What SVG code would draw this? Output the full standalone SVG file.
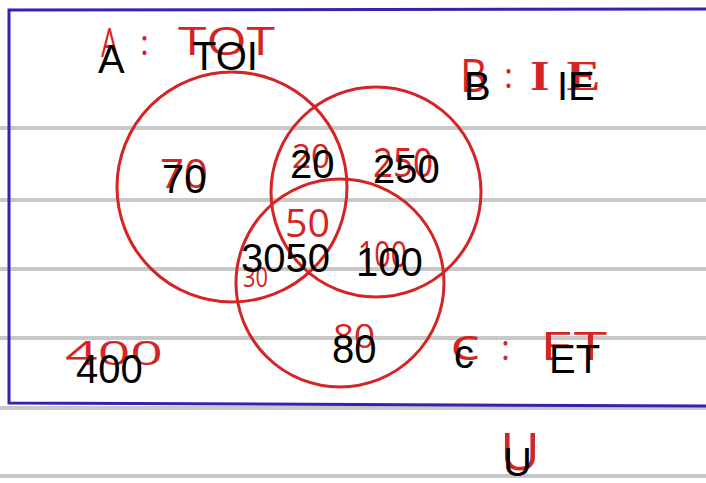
<svg xmlns="http://www.w3.org/2000/svg" width="706" height="483" viewBox="0 0 706 483">
<style>
.rule{stroke:#c8c8c8;stroke-width:4;fill:none}
.frame{stroke:#3d1fb0;stroke-width:3;fill:none}
.set{stroke:#d42424;stroke-width:3;fill:none}
.hand{font-family:"Open Sans",sans-serif;fill:#d42424;font-weight:400}
.lbl{font-family:"Liberation Sans",Arial,sans-serif;fill:#000;font-size:40px}
</style>
<rect width="706" height="483" fill="#fff"/>
<g id="rules">
<line class="rule" x1="0" y1="128" x2="706" y2="128"/>
<line class="rule" x1="0" y1="200" x2="706" y2="200"/>
<line class="rule" x1="0" y1="269" x2="706" y2="269"/>
<line class="rule" x1="0" y1="338" x2="706" y2="338"/>
<line class="rule" x1="0" y1="408" x2="706" y2="408"/>
<line class="rule" x1="0" y1="476" x2="706" y2="476"/>
</g>
<g id="universe">
<polyline class="frame" points="706,9 9,10 9,403 706,406"/>
</g>
<g id="setA"><circle class="set" cx="232" cy="187" r="115"/></g>
<g id="setB"><circle class="set" cx="376" cy="192" r="105"/></g>
<g id="setC"><circle class="set" cx="340" cy="283" r="104"/></g>
<g id="handwriting">
<text class="hand" x="101" y="57" font-size="40" textLength="17" lengthAdjust="spacingAndGlyphs">A</text>
<text class="hand" x="140" y="55" font-size="34">:</text>
<text class="hand" x="178" y="55" font-size="39" textLength="97" lengthAdjust="spacingAndGlyphs">TOT</text>
<text class="hand" x="460" y="92" font-size="46" textLength="27" lengthAdjust="spacingAndGlyphs">B</text>
<text class="hand" x="504" y="88" font-size="34">:</text>
<text class="hand" x="530" y="90" font-size="42" textLength="87" lengthAdjust="spacingAndGlyphs" style="font-family:'Liberation Serif',serif;font-weight:700;letter-spacing:14px">IE</text>
<text class="hand" x="450" y="360" font-size="43" textLength="30" lengthAdjust="spacingAndGlyphs">c</text>
<text class="hand" x="501" y="360" font-size="34">:</text>
<text class="hand" x="540" y="360" font-size="39" textLength="67" lengthAdjust="spacingAndGlyphs">ET</text>
<text class="hand" x="160" y="188" font-size="40" textLength="48" lengthAdjust="spacingAndGlyphs">70</text>
<text class="hand" x="292" y="168" font-size="32" textLength="38" lengthAdjust="spacingAndGlyphs">20</text>
<text class="hand" x="373" y="177" font-size="40" textLength="60" lengthAdjust="spacingAndGlyphs">250</text>
<text class="hand" x="285" y="237" font-size="38" textLength="45" lengthAdjust="spacingAndGlyphs">50</text>
<text class="hand" x="243" y="287" font-size="28" textLength="25" lengthAdjust="spacingAndGlyphs">30</text>
<text class="hand" x="358" y="267" font-size="36" textLength="49" lengthAdjust="spacingAndGlyphs">100</text>
<text class="hand" x="333" y="348" font-size="32" textLength="42" lengthAdjust="spacingAndGlyphs">80</text>
<text class="hand" x="65" y="365" font-size="32" textLength="98" lengthAdjust="spacingAndGlyphs">400</text>
<text class="hand" x="500" y="470" font-size="52" textLength="40" lengthAdjust="spacingAndGlyphs">U</text>
</g>
<g id="labels">
<text class="lbl" x="98" y="73">A</text>
<text class="lbl" x="192" y="70">TOI</text>
<text class="lbl" x="162" y="193">70</text>
<text class="lbl" x="290" y="178">20</text>
<text class="lbl" x="373" y="183">250</text>
<text class="lbl" x="241" y="272">3050</text>
<text class="lbl" x="356" y="276" font-size="37">100</text>
<text class="lbl" x="332" y="363">80</text>
<text class="lbl" x="76" y="383" font-size="42">400</text>
<text class="lbl" x="464" y="100">B</text>
<text class="lbl" x="557" y="100">IE</text>
<text class="lbl" x="454" y="368">c</text>
<text class="lbl" x="549" y="373">ET</text>
<text class="lbl" x="503" y="476">U</text>
</g>
</svg>
